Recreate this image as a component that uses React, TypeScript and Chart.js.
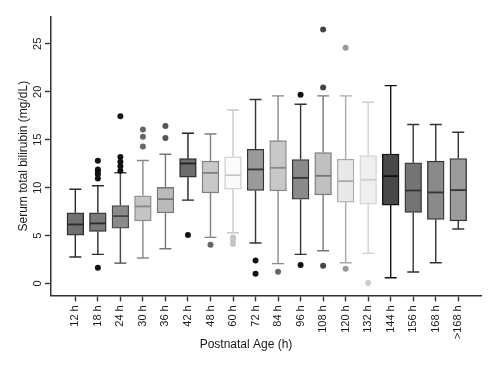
import React, { useEffect, useRef } from "react";
import { Chart, registerables } from "chart.js";

Chart.register(...registerables);

const categories = ["12 h", "18 h", "24 h", "30 h", "36 h", "42 h", "48 h", "60 h", "72 h", "84 h", "96 h", "108 h", "120 h", "132 h", "144 h", "156 h", "168 h", ">168 h"];
const whiskerLow = [2.76, 3.04, 2.13, 2.66, 3.63, 8.7, 4.81, 5.3, 4.22, 2.07, 3.04, 3.42, 2.17, 3.14, 0.6, 1.2, 2.17, 5.68];
const q1 = [5.05, 5.43, 5.78, 6.54, 7.38, 11.09, 9.46, 9.84, 9.7, 9.67, 8.8, 9.25, 8.49, 8.28, 8.18, 7.41, 6.69, 6.54];
const median = [6.16, 6.27, 7.03, 8.04, 8.8, 12.52, 11.54, 11.3, 11.9, 12.07, 11.02, 11.23, 10.68, 10.82, 11.2, 9.7, 9.5, 9.74];
const q3 = [7.38, 7.38, 8.14, 9.15, 10.02, 13.04, 12.76, 13.21, 14.0, 14.9, 12.93, 13.66, 12.97, 13.35, 13.49, 12.59, 12.76, 13.04];
const whiskerHigh = [9.84, 10.2, 11.55, 12.83, 13.49, 15.68, 15.6, 18.1, 19.19, 19.57, 18.7, 19.57, 19.57, 18.9, 20.64, 16.58, 16.58, 15.78];
const outlierCategory = [1, 1, 1, 1, 1, 1, 2, 2, 2, 2, 2, 3, 3, 3, 4, 4, 5, 6, 7, 7, 7, 8, 8, 9, 10, 10, 11, 11, 11, 12, 12, 13];
const outlierValue = [12.8, 11.9, 11.7, 11.4, 10.96, 1.65, 17.45, 13.2, 12.7, 12.24, 11.75, 16.06, 15.3, 14.3, 16.44, 15.19, 5.05, 4.04, 4.8, 4.53, 4.11, 2.41, 1.02, 1.23, 19.7, 1.93, 26.5, 20.44, 1.86, 24.6, 1.55, 0.05];
const yTicks = [0, 5, 10, 15, 20, 25];

const boxFill = ["#6f6f6f", "#7a7a7a", "#8a8a8a", "#c4c4c4", "#bbbbbb", "#6c6c6c", "#c8c8c8", "#fbfbfb", "#9a9a9a", "#c8c8c8", "#8a8a8a", "#c0c0c0", "#e8e8e8", "#efefef", "#484848", "#757575", "#8a8a8a", "#9c9c9c"];
const boxStroke = ["#2a2a2a", "#2a2a2a", "#444444", "#8a8a8a", "#777777", "#222222", "#808080", "#c8c8c8", "#333333", "#888888", "#333333", "#777777", "#aaaaaa", "#d0d0d0", "#111111", "#333333", "#333333", "#333333"];
const outlierColor = ["#111111", "#111111", "#111111", "#666666", "#555555", "#111111", "#666666", "#c4c4c4", "#111111", "#666666", "#111111", "#444444", "#999999", "#cccccc", "#111111", "#111111", "#111111", "#111111"];

const FONT = '"Liberation Sans", Arial, Helvetica, sans-serif';
const TEXT = "#1a1a1a";
const AXIS = "#333333";

export default function App() {
  const ref = useRef<HTMLCanvasElement | null>(null);

  useEffect(() => {
    if (!ref.current) return;
    const boxLines = {
      id: "boxLines",
      beforeDatasetsDraw(chart: any) {
        const { ctx, scales } = chart;
        const xs = scales.x;
        const ys = scales.y;
        ctx.save();
        ctx.lineWidth = 1.4;
        categories.forEach((_, i) => {
          const x = xs.getPixelForValue(i);
          ctx.strokeStyle = boxStroke[i];
          ctx.beginPath();
          ctx.moveTo(x, ys.getPixelForValue(whiskerLow[i]));
          ctx.lineTo(x, ys.getPixelForValue(q1[i]));
          ctx.moveTo(x, ys.getPixelForValue(q3[i]));
          ctx.lineTo(x, ys.getPixelForValue(whiskerHigh[i]));
          ctx.moveTo(x - 6, ys.getPixelForValue(whiskerLow[i]));
          ctx.lineTo(x + 6, ys.getPixelForValue(whiskerLow[i]));
          ctx.moveTo(x - 6, ys.getPixelForValue(whiskerHigh[i]));
          ctx.lineTo(x + 6, ys.getPixelForValue(whiskerHigh[i]));
          ctx.stroke();
        });
        ctx.restore();
      },
      afterDatasetsDraw(chart: any) {
        const { ctx, scales } = chart;
        const xs = scales.x;
        const ys = scales.y;
        ctx.save();
        ctx.lineWidth = 1.8;
        categories.forEach((_, i) => {
          const x = xs.getPixelForValue(i);
          const y = ys.getPixelForValue(median[i]);
          ctx.strokeStyle = boxStroke[i];
          ctx.beginPath();
          ctx.moveTo(x - 8, y);
          ctx.lineTo(x + 8, y);
          ctx.stroke();
        });
        ctx.restore();
      },
      afterDraw(chart: any) {
        const { ctx } = chart;
        ctx.save();
        ctx.fillStyle = TEXT;
        ctx.font = `12px ${FONT}`;
        ctx.textAlign = "center";
        ctx.textBaseline = "middle";
        ctx.fillText("Postnatal Age (h)", 246, 345);
        ctx.restore();
      },
    };

    const chart = new Chart(ref.current, {
      type: "bar",
      data: {
        datasets: [
          {
            type: "bar",
            data: categories.map((_, i) => ({ x: i, y: [q1[i], q3[i]] })) as any,
            backgroundColor: boxFill,
            borderColor: boxStroke,
            borderWidth: 1.3,
            borderSkipped: false,
            barThickness: 16.7,
            grouped: false,
            order: 2,
          } as any,
          {
            type: "scatter",
            data: outlierValue.map((v, k) => ({ x: outlierCategory[k], y: v })),
            pointBackgroundColor: outlierCategory.map((c) => outlierColor[c]),
            pointBorderWidth: 0,
            pointRadius: 3,
            order: 1,
          } as any,
        ],
      },
      options: {
        responsive: false,
        animation: false,
        events: [],
        layout: { padding: { top: 17, right: 18.3, left: 0, bottom: 0 } },
        plugins: {
          legend: { display: false },
          tooltip: { enabled: false },
          title: { display: false },
        },
        scales: {
          x: {
            type: "linear",
            min: -1.08,
            max: 18.04,
            offset: false,
            afterFit(scale: any) {
              scale.height = 367 - 295.3;
            },
            afterBuildTicks(scale: any) {
              scale.ticks = categories.map((_, i) => ({ value: i }));
            },
            grid: { offset: false, drawOnChartArea: false, drawTicks: true, tickLength: 6, tickColor: AXIS, tickWidth: 1.4 },
            border: { display: true, color: AXIS, width: 1.5 },
            ticks: {
              autoSkip: false,
              minRotation: 90,
              maxRotation: 90,
              padding: 4,
              color: TEXT,
              font: { family: FONT, size: 11 },
              callback: (v: any) => categories[Math.round(v)] ?? "",
            },
          },
          y: {
            type: "linear",
            min: -1.23,
            max: 27.8,
            afterFit(scale: any) {
              scale.width = 51;
            },
            afterBuildTicks(scale: any) {
              scale.ticks = yTicks.map((v) => ({ value: v }));
            },
            grid: { drawOnChartArea: false, drawTicks: true, tickLength: 6, tickColor: AXIS, tickWidth: 1.4 },
            border: { display: true, color: AXIS, width: 1.5 },
            ticks: {
              minRotation: 90,
              maxRotation: 90,
              crossAlign: "center",
              padding: 1,
              color: TEXT,
              font: { family: FONT, size: 11 },
            },
            title: {
              display: true,
              text: "Serum total bilirubin (mg/dL)",
              color: TEXT,
              font: { family: FONT, size: 12 },
              padding: { top: 16, bottom: 0 },
            },
          },
        },
      } as any,
      plugins: [boxLines],
    });
    return () => chart.destroy();
  }, []);

  return (
    <div style={{ position: "fixed", left: 0, top: 0, width: 500, height: 367, background: "#fff" }}>
      <canvas ref={ref} width={500} height={367} style={{ display: "block" }} />
    </div>
  );
}
